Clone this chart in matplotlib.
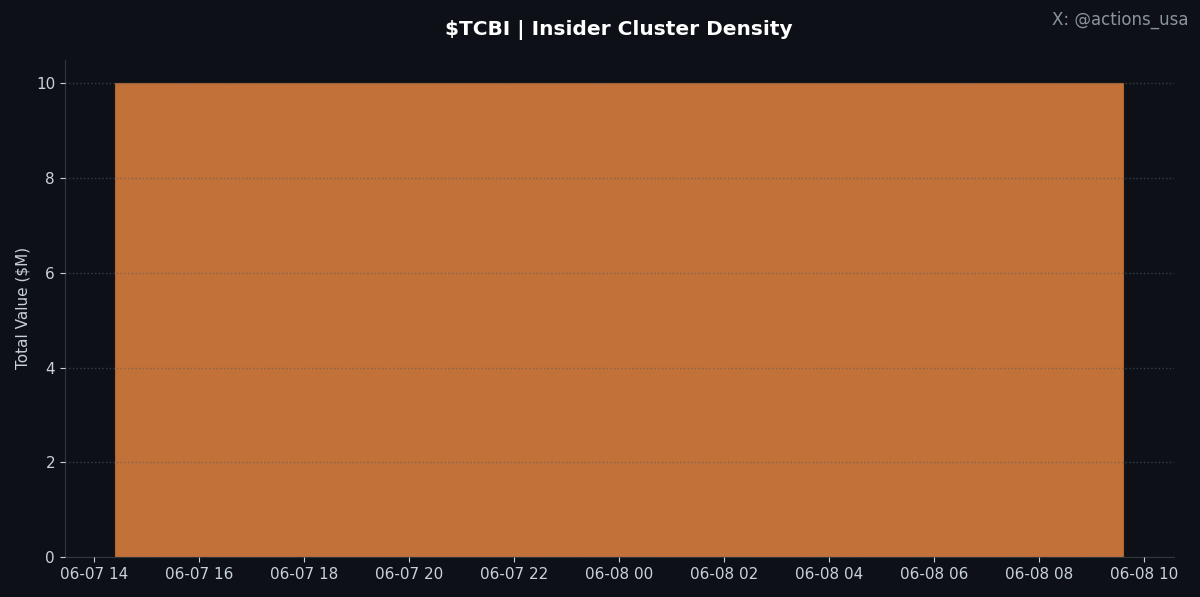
import matplotlib
matplotlib.use("Agg")
import matplotlib.pyplot as plt
import matplotlib.dates as mdates
import pandas as pd

# data
dates = pd.to_datetime(["2024-06-08"])
values = [10.0]

bg = "#0d1117"
fig, ax = plt.subplots(figsize=(12, 5.97), dpi=100)
fig.patch.set_facecolor(bg)
ax.set_facecolor(bg)

ax.bar(dates, values, width=0.8, color="#c27139", edgecolor="#b0652f", linewidth=0.8)

ax.grid(axis="y", linestyle=":", color="#555b63", linewidth=1, alpha=0.6)
ax.set_axisbelow(False)

ax.xaxis.set_major_formatter(mdates.DateFormatter("%m-%d %H"))
ax.set_ylabel("Total Value ($M)", color="#c9d1d9", fontsize=11)
ax.set_title("$TCBI | Insider Cluster Density", color="white", fontsize=14.5,
             fontweight="bold", pad=17.5)
ax.tick_params(colors="#c9d1d9", labelsize=11)
for s in ["top", "right"]:
    ax.spines[s].set_visible(False)
for s in ["left", "bottom"]:
    ax.spines[s].set_color("#30363d")

fig.text(0.99, 0.967, "X: @actions_usa", ha="right", va="center",
         color="#8b949e", fontsize=12)

fig.subplots_adjust(left=0.054, right=0.978, top=0.9, bottom=0.067)
fig.savefig("out.png", facecolor=bg)
